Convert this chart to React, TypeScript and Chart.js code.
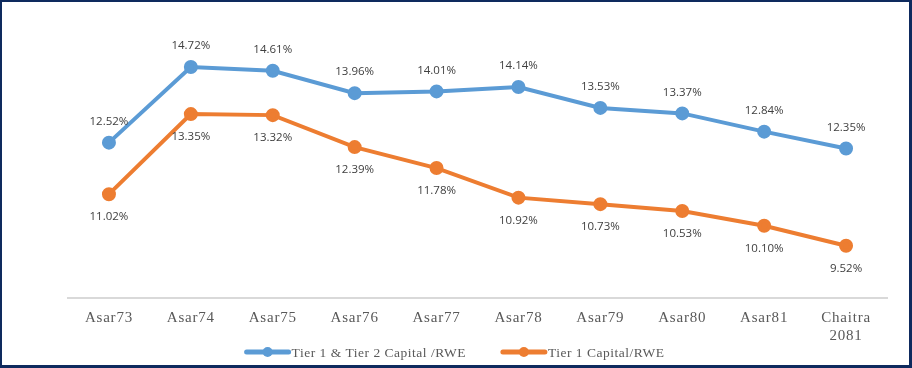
import React, { useEffect, useRef } from "react";
import { Chart, registerables } from "chart.js";

Chart.register(...registerables);

const categories: (string | string[])[] = ["Asar73", "Asar74", "Asar75", "Asar76", "Asar77", "Asar78", "Asar79", "Asar80", "Asar81", ["Chaitra", "2081"]];
const tier12: number[] = [12.52, 14.72, 14.61, 13.96, 14.01, 14.14, 13.53, 13.37, 12.84, 12.35];
const tier1: number[] = [11.02, 13.35, 13.32, 12.39, 11.78, 10.92, 10.73, 10.53, 10.1, 9.52];
const seriesNames: string[] = ["Tier 1 & Tier 2 Capital /RWE", "Tier 1 Capital/RWE"];
const colors: string[] = ["#5B9BD5", "#ED7D31"];

const spacingPlugin = {
  id: "tickSpacing",
  beforeDraw(chart: any) {
    chart.ctx.letterSpacing = "0.8px";
  },
  beforeDatasetsDraw(chart: any) {
    chart.ctx.letterSpacing = "0px";
  },
};

const labelPlugin = {
  id: "valueLabels",
  afterDatasetsDraw(chart: any) {
    const ctx = chart.ctx;
    ctx.save();
    ctx.letterSpacing = "0px";
    ctx.font = "11.5px 'Open Sans', sans-serif";
    ctx.fillStyle = "#404040";
    ctx.textAlign = "center";
    ctx.textBaseline = "middle";
    chart.data.datasets.forEach((ds: any, i: number) => {
      const meta = chart.getDatasetMeta(i);
      meta.data.forEach((pt: any, j: number) => {
        const v = ds.data[j] as number;
        const off = i === 0 ? -21 : 23;
        ctx.fillText(v.toFixed(2) + "%", pt.x, pt.y + off);
      });
    });
    ctx.restore();
  },
};

const legendPlugin = {
  id: "customLegend",
  afterDraw(chart: any) {
    const ctx = chart.ctx;
    ctx.save();
    ctx.letterSpacing = "0.5px";
    ctx.font = "13.5px 'Liberation Serif', serif";
    ctx.textBaseline = "middle";
    const lineLen = 42;
    const gap = 3;
    const itemGap = 37;
    const widths = seriesNames.map((n) => lineLen + gap + ctx.measureText(n).width);
    const total = widths.reduce((a, b) => a + b, 0) + itemGap * (seriesNames.length - 1);
    let x = chart.width / 2 - total / 2;
    const y = 350;
    seriesNames.forEach((n, i) => {
      ctx.strokeStyle = colors[i];
      ctx.lineWidth = 5;
      ctx.lineCap = "round";
      ctx.beginPath();
      ctx.moveTo(x, y);
      ctx.lineTo(x + lineLen, y);
      ctx.stroke();
      ctx.fillStyle = colors[i];
      ctx.beginPath();
      ctx.arc(x + lineLen / 2, y, 5, 0, Math.PI * 2);
      ctx.fill();
      ctx.fillStyle = "#595959";
      ctx.fillText(n, x + lineLen + gap, y + 1);
      x += widths[i] + itemGap;
    });
    ctx.restore();
  },
};

export default function App() {
  const ref = useRef<HTMLCanvasElement | null>(null);
  useEffect(() => {
    document.body.style.margin = "0";
    if (!ref.current) return;
    const chart = new Chart(ref.current, {
      type: "line",
      data: {
        labels: categories,
        datasets: [
          {
            label: seriesNames[0],
            data: tier12,
            borderColor: colors[0],
            backgroundColor: colors[0],
            borderWidth: 4,
            pointRadius: 5,
            pointHoverRadius: 5,
            tension: 0,
          },
          {
            label: seriesNames[1],
            data: tier1,
            borderColor: colors[1],
            backgroundColor: colors[1],
            borderWidth: 4,
            pointRadius: 5,
            pointHoverRadius: 5,
            tension: 0,
          },
        ],
      },
      options: {
        animation: false,
        responsive: false,
        maintainAspectRatio: false,
        layout: { padding: { left: 66, right: 22, top: 21, bottom: 0 } },
        plugins: { legend: { display: false }, tooltip: { enabled: false } },
        scales: {
          y: { display: false, min: 8, max: 16 },
          x: {
            offset: true,
            grid: { display: true, drawOnChartArea: false, drawTicks: false, color: "transparent" },
            border: { display: true, color: "#d9d9d9", width: 2 },
            ticks: {
              color: "#595959",
              font: { family: "'Liberation Serif', serif", size: 15 },
              padding: 11,
              maxRotation: 0,
              autoSkip: false,
            },
            afterFit: (scale: any) => {
              scale.height = 67;
            },
          },
        },
      },
      plugins: [spacingPlugin, labelPlugin, legendPlugin],
    });
    return () => chart.destroy();
  }, []);
  return (
    <div
      style={{
        width: 912,
        height: 368,
        boxSizing: "border-box",
        borderTop: "2px solid #0E2A5E",
        borderLeft: "2px solid #0E2A5E",
        borderRight: "3px solid #0E2A5E",
        borderBottom: "3px solid #0E2A5E",
        background: "#fff",
        position: "relative",
        overflow: "hidden",
      }}
    >
      <canvas ref={ref} width={907} height={363} style={{ display: "block" }} />
    </div>
  );
}
